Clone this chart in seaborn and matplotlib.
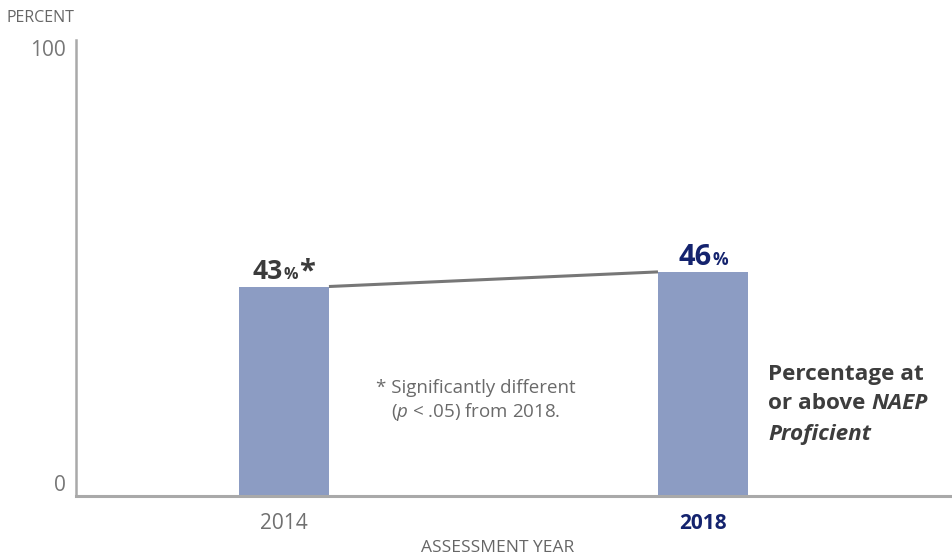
import matplotlib
matplotlib.use("Agg")
import matplotlib.pyplot as plt
from matplotlib import font_manager
import pandas as pd
import seaborn as sns

# Data
years = ["2014", "2018"]
percent = [43, 46]
value_labels = ["43", "46"]
value_suffixes = ["%", "%"]
value_marks = ["*", ""]
year_label_colors = ["#707070", "#14236e"]
value_label_colors = ["#3b3b3b", "#14236e"]

sns.set_theme(style="white")
avail = {f.name for f in font_manager.fontManager.ttflist}
BASE = "Open Sans" if "Open Sans" in avail else "DejaVu Sans"
NARROW = "Liberation Sans Narrow" if "Liberation Sans Narrow" in avail else BASE
plt.rcParams["font.family"] = [BASE, "DejaVu Sans"]
plt.rcParams["mathtext.fontset"] = "custom"
plt.rcParams["mathtext.rm"] = BASE
plt.rcParams["mathtext.it"] = f"{BASE}:italic"
plt.rcParams["mathtext.bf"] = f"{BASE}:bold"

df = pd.DataFrame({"year": years, "percent": percent})

fig = plt.figure(figsize=(9.52, 5.57), dpi=100)
ax = fig.add_axes([76 / 952, 61 / 557, 876 / 952, 456 / 557])

BAR_W = 0.215
sns.barplot(data=df, x="year", y="percent", color="#8c9cc3", saturation=1,
            width=BAR_W, ax=ax, edgecolor="none")

Y_TOP = 93.6
ax.set_xlim(-0.496, 1.594)
ax.set_ylim(0, Y_TOP)

# connector between bar tops
ax.plot([0 + BAR_W / 2, 1 - BAR_W / 2], percent, color="#777777", lw=2.2,
        solid_capstyle="butt", zorder=3)

# spines
sns.despine(ax=ax, top=True, right=True)
ax.spines["left"].set_color("#a9a9a9")
ax.spines["left"].set_linewidth(1.8)
ax.spines["bottom"].set_color("#a9a9a9")
ax.spines["bottom"].set_linewidth(2.2)

# y ticks
ax.set_yticks([0, Y_TOP])
ax.set_yticklabels(["0", "100"], fontsize=15, color="#777777", family=NARROW)
ax.tick_params(axis="y", length=0, pad=7)
ylabs = ax.get_yticklabels()
ylabs[0].set_va("bottom")
ylabs[1].set_va("top")

# x ticks
ax.set_xticks([0, 1])
ax.set_xticklabels(years, fontsize=15)
ax.tick_params(axis="x", length=0, pad=12)
for lab, col in zip(ax.get_xticklabels(), year_label_colors):
    lab.set_color(col)
xl = ax.get_xticklabels()
xl[1].set_fontweight("bold")
ax.set_xlabel("")
ax.set_ylabel("")

# value labels above bars: number, small percent sign, optional asterisk
num_sizes = [19, 21]
pct_sizes = [11.5, 12.5]
offsets_px = [-1, 9]
for i, (v, lab, suf, mark, col) in enumerate(
        zip(percent, value_labels, value_suffixes, value_marks, value_label_colors)):
    t = ax.annotate(lab, xy=(i, v), xytext=(offsets_px[i] * 0.72, 5.2),
                    textcoords="offset points", ha="right", va="baseline",
                    fontsize=num_sizes[i], fontweight="bold", color=col)
    p = ax.annotate(suf, xy=(1, v), xycoords=(t, "data"), xytext=(0.6, 5.2),
                    textcoords="offset points", ha="left", va="baseline",
                    fontsize=pct_sizes[i], fontweight="bold", color=col)
    if mark:
        ax.annotate(mark, xy=(1, v), xycoords=(p, "data"), xytext=(0.3, 5.2),
                    textcoords="offset points", ha="left", va="baseline",
                    fontsize=21, fontweight="bold", color=col)

# footnote
ax.text(0.458, 19.6, "* Significantly different\n($p$ < .05) from 2018.",
        ha="center", va="center", multialignment="center", fontsize=13.5,
        color="#6a6a6a", linespacing=1.25)

# series legend text
lx = 1.155
FS = 16.2
ax.text(lx, 25.0, "Percentage at", ha="left", va="center", fontsize=FS,
        fontweight="bold", color="#3d3d3d")
t2 = ax.text(lx, 18.9, "or above ", ha="left", va="center", fontsize=FS,
             fontweight="bold", color="#3d3d3d")
ax.annotate("NAEP", xy=(1, 0), xycoords=t2, ha="left", va="bottom", fontsize=FS,
            fontweight="bold", fontstyle="italic", color="#3d3d3d")
ax.text(lx, 12.6, "Proficient", ha="left", va="center", fontsize=FS,
        fontweight="bold", fontstyle="italic", color="#3d3d3d")

# axis titles
fig.text(7 / 952, 1 - 18 / 557, "PERCENT", ha="left", va="center", fontsize=11.5,
         color="#666666", family=NARROW)
fig.text(498 / 952, 1 - 548 / 557, "ASSESSMENT YEAR", ha="center", va="center",
         fontsize=12.5, color="#666666", family=NARROW)

fig.savefig("out.png", dpi=100)
